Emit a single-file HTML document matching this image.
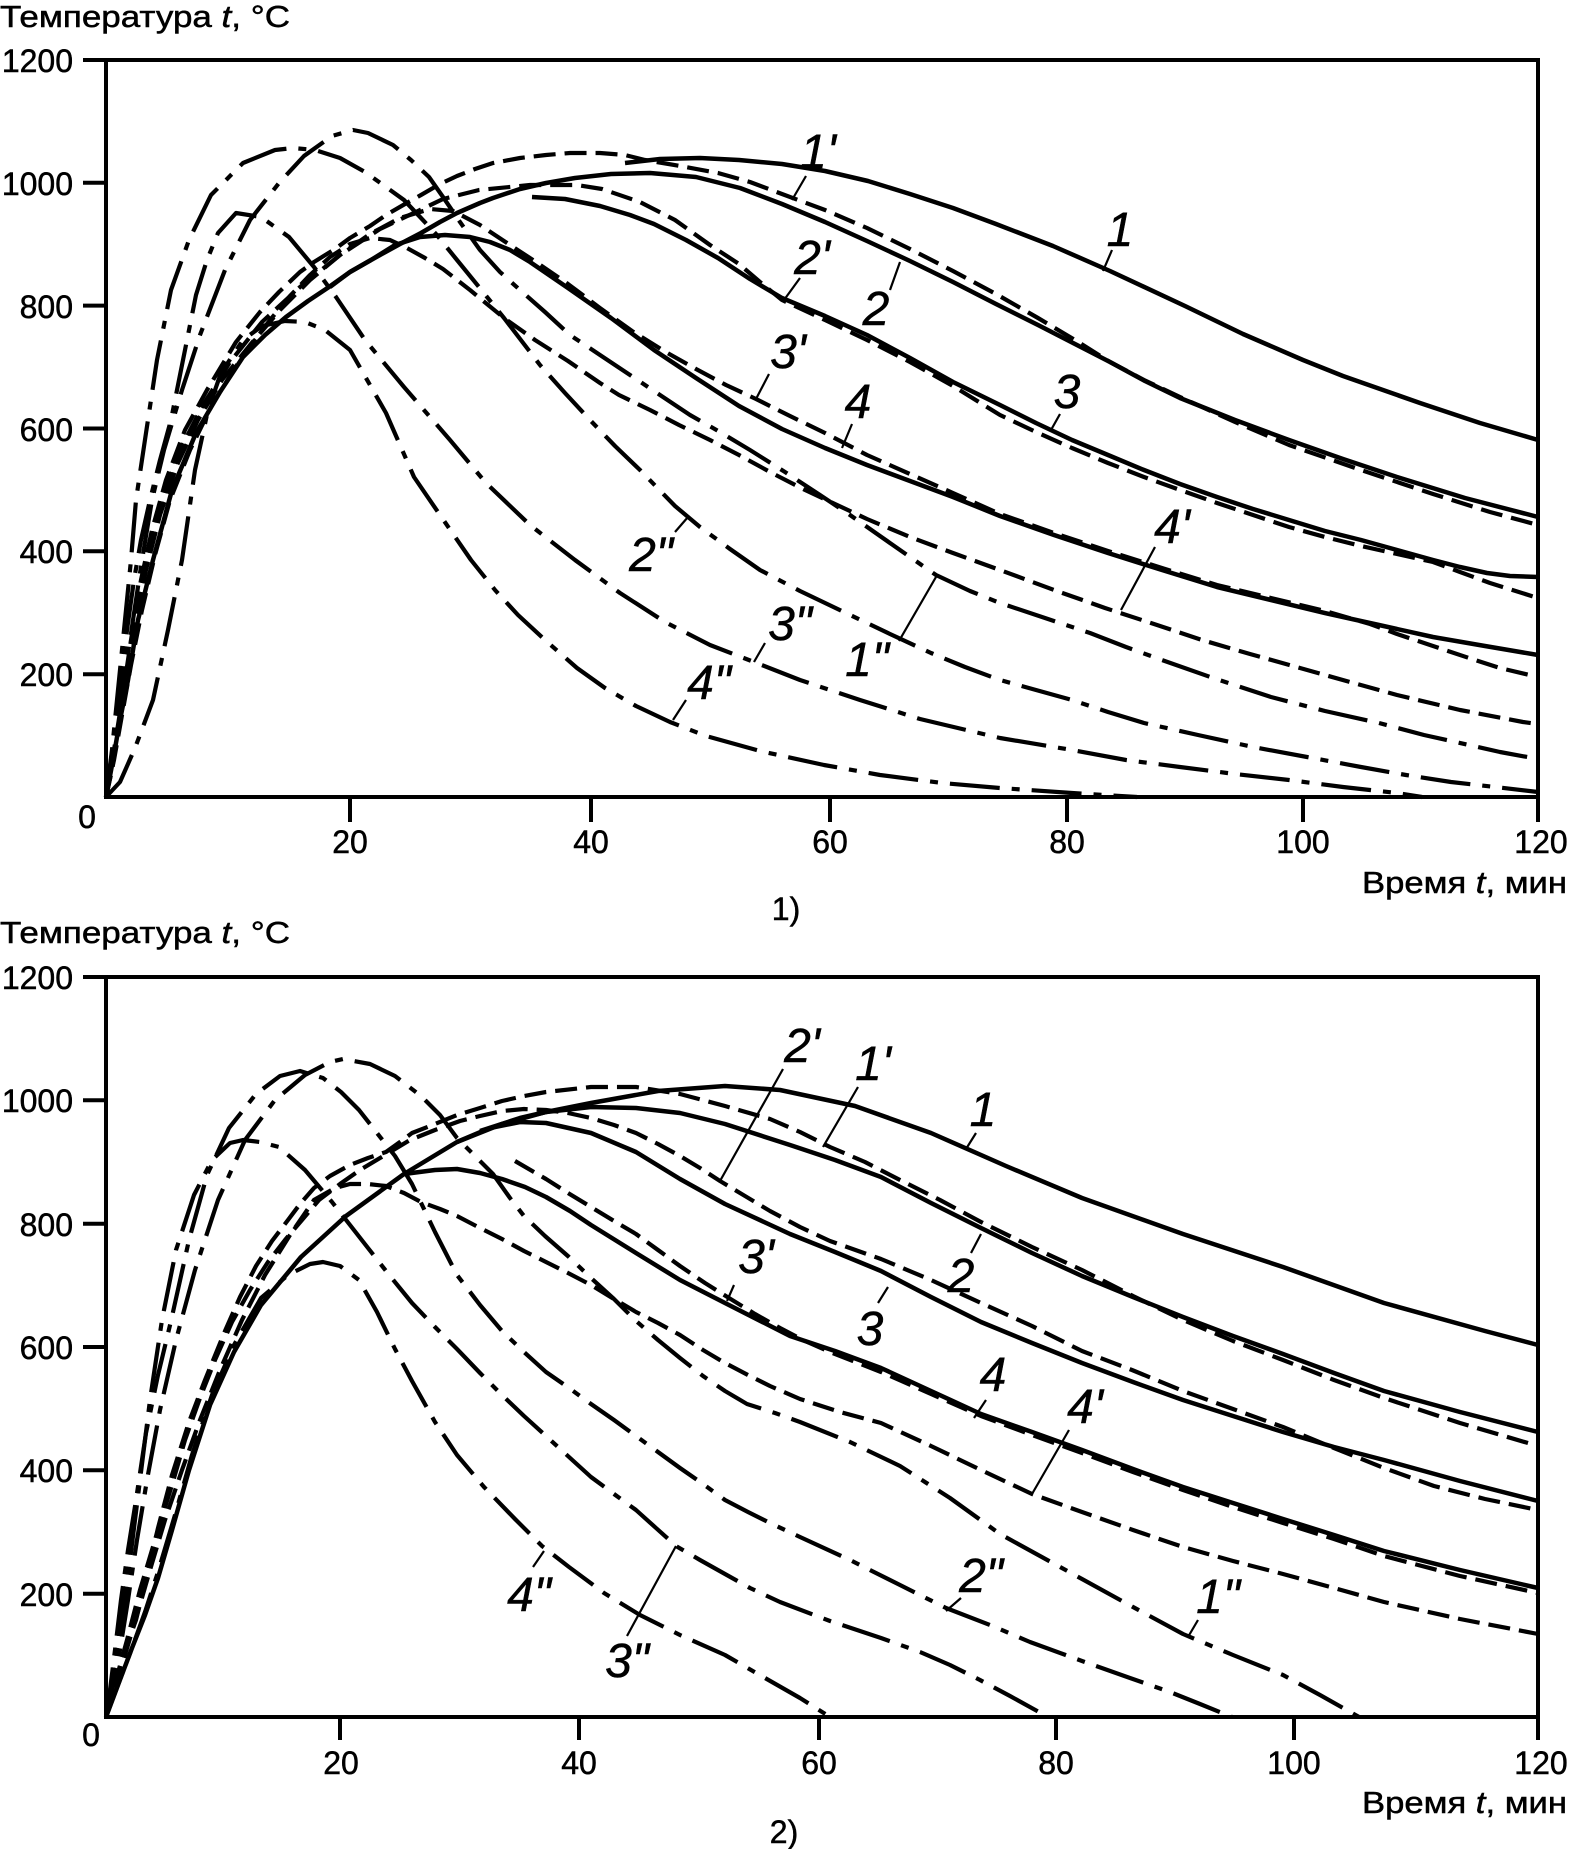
<!DOCTYPE html>
<html><head><meta charset="utf-8"><style>
html,body{margin:0;padding:0;background:#fff;}
svg{display:block;}
text{font-family:"Liberation Sans",Arial,sans-serif;fill:#000;stroke:#000;stroke-width:0.5;}
.lb{font-size:48px;font-style:italic;text-anchor:middle;}
.tk{font-size:32px;}
</style></head><body>
<svg width="1569" height="1849" viewBox="0 0 1569 1849" xmlns="http://www.w3.org/2000/svg">
<rect width="1569" height="1849" fill="#fff"/>

<!-- ============ PANEL 1 axes ============ -->
<g stroke="#000" stroke-width="4" fill="none">
<polyline points="83,60 1538,60 1538,822"/>
<line x1="106" y1="60" x2="106" y2="797"/>
<line x1="104" y1="797" x2="1540" y2="797"/>
<line x1="83" y1="182.8" x2="106" y2="182.8"/>
<line x1="83" y1="305.6" x2="106" y2="305.6"/>
<line x1="83" y1="428.5" x2="106" y2="428.5"/>
<line x1="83" y1="551.3" x2="106" y2="551.3"/>
<line x1="83" y1="674.2" x2="106" y2="674.2"/>
<line x1="350" y1="797" x2="350" y2="822"/>
<line x1="591" y1="797" x2="591" y2="822"/>
<line x1="830" y1="797" x2="830" y2="822"/>
<line x1="1067" y1="797" x2="1067" y2="822"/>
<line x1="1303" y1="797" x2="1303" y2="822"/>
</g>
<g class="tk" text-anchor="end">
<text x="73" y="72">1200</text>
<text x="73" y="195">1000</text>
<text x="73" y="318">800</text>
<text x="73" y="441">600</text>
<text x="73" y="563">400</text>
<text x="73" y="686">200</text>
</g>
<g class="tk" text-anchor="middle">
<text x="87" y="828">0</text>
<text x="350" y="853">20</text>
<text x="591" y="853">40</text>
<text x="830" y="853">60</text>
<text x="1067" y="853">80</text>
<text x="1303" y="853">100</text>
<text x="1541" y="853">120</text>
</g>
<text x="0" y="27" font-size="31" textLength="290" lengthAdjust="spacingAndGlyphs">Температура <tspan font-style="italic">t</tspan>, °C</text>
<text x="1567" y="893" font-size="31" text-anchor="end" textLength="205" lengthAdjust="spacingAndGlyphs">Время <tspan font-style="italic">t</tspan>, мин</text>
<text x="786" y="920" font-size="32" text-anchor="middle">1)</text>

<!-- PANEL 1 curves -->
<g fill="none" stroke="#000" stroke-linejoin="round">
<g stroke-width="4.5">
<polyline points="625,163 660,159 700,158 739,160 782,164 825,171 868,181 910,194 953,208 996,224 1053,246 1110,271 1185,306 1243,334 1303,360 1343,376 1420,403 1480,423 1538,440"/>
<polyline points="106,797 113,760 120,720 128,680 138,620 153,560 172,490 196,433 220,392 243,357 265,335 286,317 308,301 329,287 350,272 371,260 400,244 421,233 440,222 457,213 480,203 493,198 520,189 546,183 575,178 611,174 650,173 696,177 740,188 782,204 825,222 867,241 910,261 953,282 996,304 1038,325 1075,344 1110,362 1145,381 1180,398 1235,420 1289,440 1343,459 1397,477 1465,498 1538,517"/>
<polyline points="532,197 565,199 600,206 630,215 654,224 686,240 718,258 750,279 782,298 825,316 867,335 910,358 953,382 1000,405 1036,423 1072,440 1108,455 1144,470 1180,484 1217,497 1253,509 1289,520 1325,531 1361,540 1397,550 1433,560 1460,567 1487,573 1510,576 1538,577"/>
<polyline points="330,287 350,272 371,260 395,245 420,237 445,235 470,237 490,242 510,250 530,262 568,288 611,318 654,350 696,378 739,406 782,429 825,448 867,465 910,481 953,497 1000,516 1054,535 1108,553 1162,570 1217,587 1271,600 1325,613 1379,625 1433,637 1485,646 1538,655"/>
</g>
<g stroke-width="4.2" stroke-dasharray="22 9">
<polyline points="106,797 114,750 122,700 131,640 141,580 152,530 166,480 185,430 207,390 236,342 260,312 279,292 300,272 314,262 335,249 350,238 370,226 386,215 405,204 421,195 440,184 457,176 475,169 493,163 520,158 546,155 570,153 600,153 625,155 645,160 680,166 718,173 750,182 782,194 825,210 867,228 910,249 953,271 996,294 1038,318 1075,340 1110,362 1144,380 1180,397 1235,422 1289,445 1361,470 1433,494 1490,512 1538,525"/>
<polyline points="106,797 113,760 120,715 128,665 137,610 148,555 162,500 180,450 203,405 230,362 262,322 300,287 340,255 380,229 420,210 443,199 479,190 530,185 577,185 602,189 640,202 675,220 710,245 739,264 760,282 782,300 825,320 867,340 910,362 953,386 1000,415 1036,432 1072,448 1108,463 1144,477 1180,490 1217,503 1253,515 1289,527 1325,537 1361,546 1397,554 1433,562 1460,572 1490,583 1538,598"/>
<polyline points="106,797 112,770 118,730 126,680 135,625 146,570 160,515 177,465 198,420 222,380 250,345 280,310 310,280 340,255 370,234 400,218 430,209 453,211 480,225 504,241 536,262 568,284 600,308 632,331 664,351 696,369 726,385 756,399 790,416 825,433 867,455 910,474 953,493 1000,514 1054,533 1108,551 1162,568 1217,585 1271,598 1325,611 1370,624 1397,634 1433,646 1469,658 1500,668 1538,677"/>
<polyline points="106,797 114,760 122,715 131,665 142,610 155,555 170,500 190,450 212,405 240,360 270,320 290,296 310,275 330,257 350,244 370,238 390,240 407,248 425,258 443,269 470,290 504,318 535,340 568,361 600,383 619,395 650,410 679,425 710,440 739,455 770,472 803,489 835,504 867,519 910,537 953,553 1000,570 1054,590 1105,608 1154,624 1202,640 1250,654 1300,668 1350,682 1397,695 1460,710 1523,722 1538,724"/>
</g>
<g stroke-width="4.2" stroke-dasharray="50 12 8 12">
<polyline points="106,797 115,740 124,680 133,620 142,560 152,500 164,450 182,390 200,335 225,270 250,220 279,183 304,156 332,136 353,130 368,133 393,145 411,160 429,177 443,197 460,222 480,250 500,272 520,290 545,312 570,335 600,355 630,375 660,395 690,415 720,432 750,450 785,472 820,495 850,515 880,536 910,557 936,575 970,591 1000,603 1045,618 1090,633 1126,647 1162,660 1216,679 1271,697 1325,711 1379,723 1424,735 1469,745 1500,752 1538,759"/>
<polyline points="106,797 112,750 118,690 125,620 131,560 136,500 146,433 157,360 171,290 189,240 211,195 243,163 275,150 293,148 315,150 340,158 365,172 386,187 404,200 421,218 436,234 457,260 479,287 504,318 540,365 565,393 590,420 615,446 640,470 675,506 700,527 730,549 760,570 800,591 846,613 890,634 931,653 965,667 1000,680 1036,690 1072,700 1108,712 1144,723 1198,735 1253,747 1307,757 1361,767 1406,775 1451,782 1495,787 1538,792"/>
<polyline points="106,797 113,745 120,690 127,630 134,580 141,540 150,500 160,460 171,420 185,350 196,295 207,260 218,233 236,213 261,217 289,237 314,267 336,297 365,340 404,387 450,440 486,483 530,525 575,560 620,593 665,622 710,645 754,662 800,680 860,700 920,719 1000,738 1072,750 1126,760 1180,767 1235,774 1289,780 1343,787 1397,793 1422,797"/>
<polyline points="106,797 120,782 135,748 153,700 168,630 182,560 195,470 208,410 221,373 243,340 262,326 285,321 305,322 325,330 350,350 370,385 386,413 400,445 414,477 440,515 471,560 495,590 518,615 545,640 577,668 605,688 636,706 670,722 706,736 760,751 824,765 880,775 942,783 1000,788 1072,793 1137,797"/>
</g>
<g stroke-width="2.2">
<line x1="806" y1="176" x2="792" y2="200"/>
<line x1="1112" y1="250" x2="1103" y2="271"/>
<line x1="800" y1="278" x2="784" y2="300"/>
<line x1="890" y1="290" x2="900" y2="262"/>
<line x1="769" y1="374" x2="756" y2="399"/>
<line x1="852" y1="424" x2="842" y2="448"/>
<line x1="1060" y1="414" x2="1051" y2="430"/>
<line x1="1155" y1="547" x2="1121" y2="610"/>
<line x1="675" y1="532" x2="688" y2="517"/>
<line x1="765" y1="643" x2="754" y2="662"/>
<line x1="899" y1="641" x2="936" y2="577"/>
<line x1="686" y1="700" x2="673" y2="720"/>
</g>
</g>
<g class="lb">
<text x="818" y="168">1'</text>
<text x="1120" y="246">1</text>
<text x="812" y="274">2'</text>
<text x="876" y="325">2</text>
<text x="788" y="368">3'</text>
<text x="858" y="418">4</text>
<text x="1067" y="408">3</text>
<text x="1172" y="543">4'</text>
<text x="651" y="571">2"</text>
<text x="790" y="640">3"</text>
<text x="867" y="676">1"</text>
<text x="709" y="699">4"</text>
</g>

<!-- ============ PANEL 2 axes ============ -->
<g stroke="#000" stroke-width="4" fill="none">
<polyline points="83,977 1538,977 1538,1740"/>
<line x1="106" y1="977" x2="106" y2="1717"/>
<line x1="104" y1="1717" x2="1540" y2="1717"/>
<line x1="83" y1="1100.3" x2="106" y2="1100.3"/>
<line x1="83" y1="1223.7" x2="106" y2="1223.7"/>
<line x1="83" y1="1347" x2="106" y2="1347"/>
<line x1="83" y1="1470.3" x2="106" y2="1470.3"/>
<line x1="83" y1="1593.7" x2="106" y2="1593.7"/>
<line x1="340" y1="1717" x2="340" y2="1740"/>
<line x1="579" y1="1717" x2="579" y2="1740"/>
<line x1="819" y1="1717" x2="819" y2="1740"/>
<line x1="1056" y1="1717" x2="1056" y2="1740"/>
<line x1="1294" y1="1717" x2="1294" y2="1740"/>
</g>
<g class="tk" text-anchor="end">
<text x="73" y="989">1200</text>
<text x="73" y="1112">1000</text>
<text x="73" y="1236">800</text>
<text x="73" y="1359">600</text>
<text x="73" y="1482">400</text>
<text x="73" y="1606">200</text>
</g>
<g class="tk" text-anchor="middle">
<text x="91" y="1746">0</text>
<text x="341" y="1774">20</text>
<text x="579" y="1774">40</text>
<text x="819" y="1774">60</text>
<text x="1056" y="1774">80</text>
<text x="1294" y="1774">100</text>
<text x="1541" y="1774">120</text>
</g>
<text x="0" y="943" font-size="31" textLength="290" lengthAdjust="spacingAndGlyphs">Температура <tspan font-style="italic">t</tspan>, °C</text>
<text x="1567" y="1813" font-size="31" text-anchor="end" textLength="205" lengthAdjust="spacingAndGlyphs">Время <tspan font-style="italic">t</tspan>, мин</text>
<text x="784" y="1843" font-size="32" text-anchor="middle">2)</text>

<!-- PANEL 2 curves -->
<g fill="none" stroke="#000" stroke-linejoin="round">
<g stroke-width="4.5">
<polyline points="106,1717 118,1685 132,1648 145,1615 158,1578 172,1530 189,1470 210,1405 234,1352 261,1305 301,1257 346,1216 404,1174 457,1142 502,1124 546,1112 591,1103 658,1091 725,1086 780,1090 855,1106 931,1133 1006,1166 1082,1198 1183,1234 1283,1267 1384,1303 1485,1331 1538,1345"/>
<polyline points="480,1131 520,1118 546,1112 591,1107 636,1108 680,1113 725,1124 790,1145 835,1160 881,1177 931,1203 981,1228 1032,1253 1082,1276 1133,1297 1183,1317 1233,1336 1283,1354 1334,1373 1384,1391 1460,1412 1538,1432"/>
<polyline points="457,1142 490,1128 520,1122 546,1123 591,1133 636,1152 680,1179 725,1204 790,1234 835,1252 881,1271 931,1297 981,1322 1032,1343 1082,1363 1133,1382 1183,1400 1233,1416 1283,1432 1334,1447 1384,1460 1460,1481 1538,1501"/>
<polyline points="404,1174 435,1170 457,1169 480,1173 502,1179 525,1187 546,1197 570,1211 591,1225 636,1253 680,1280 725,1303 790,1336 835,1351 881,1368 931,1391 981,1414 1032,1432 1082,1450 1133,1469 1183,1487 1233,1503 1283,1519 1334,1535 1384,1551 1460,1570 1538,1588"/>
</g>
<g stroke-width="4.2" stroke-dasharray="22 9">
<polyline points="106,1717 115,1685 125,1650 136,1620 147,1575 158,1528 172,1475 189,1422 205,1380 225,1331 240,1297 256,1266 272,1241 288,1220 300,1204 314,1188 330,1176 350,1165 368,1158 386,1152 400,1142 412,1133 435,1124 457,1115 480,1108 502,1101 524,1096 546,1092 591,1087 636,1087 680,1094 725,1106 770,1119 800,1132 830,1147 865,1162 900,1180 940,1200 981,1222 1032,1247 1082,1270 1133,1296 1183,1320 1233,1341 1283,1360 1334,1380 1384,1398 1460,1423 1538,1446"/>
<polyline points="106,1717 116,1680 127,1640 140,1590 158,1530 172,1485 185,1440 200,1398 215,1360 232,1322 250,1290 268,1262 285,1240 302,1220 319,1200 340,1184 360,1170 385,1155 410,1140 435,1130 460,1121 480,1116 502,1111 524,1109 546,1110 568,1113 591,1118 614,1125 636,1133 658,1144 680,1156 700,1168 720,1181 745,1196 770,1211 800,1227 830,1241 881,1259 931,1280 981,1303 1032,1326 1082,1351 1132,1370 1183,1391 1233,1409 1283,1427 1334,1448 1384,1468 1434,1486 1485,1499 1538,1510"/>
<polyline points="515,1161 546,1179 568,1193 591,1207 614,1221 636,1234 658,1250 680,1266 705,1283 729,1298 755,1314 780,1328 805,1341 830,1352 881,1372 931,1394 981,1416 1032,1435 1082,1453 1133,1472 1183,1490 1233,1507 1283,1523 1334,1539 1384,1556 1460,1576 1538,1593"/>
<polyline points="106,1717 115,1690 125,1655 137,1615 150,1570 165,1520 182,1470 200,1420 220,1370 242,1320 265,1275 290,1235 314,1200 335,1188 350,1184 368,1184 386,1186 404,1193 421,1202 440,1209 457,1216 480,1228 502,1239 524,1251 546,1262 568,1273 591,1285 614,1299 636,1312 658,1323 680,1335 703,1350 725,1363 748,1375 770,1386 800,1399 840,1412 881,1423 931,1446 981,1470 1032,1494 1082,1512 1133,1530 1183,1547 1233,1561 1283,1574 1334,1588 1384,1602 1460,1619 1538,1634"/>
</g>
<g stroke-width="4.2" stroke-dasharray="50 12 8 12">
<polyline points="106,1717 112,1690 120,1650 128,1600 137,1540 147,1480 160,1410 176,1340 195,1270 218,1200 245,1140 275,1100 305,1075 330,1062 343,1059 370,1064 395,1076 421,1096 440,1115 457,1138 475,1156 493,1174 510,1198 524,1216 545,1236 569,1257 591,1278 613,1298 635,1320 658,1340 680,1358 703,1376 725,1391 747,1404 775,1413 800,1422 850,1442 900,1466 950,1498 1000,1534 1040,1556 1082,1579 1133,1607 1183,1634 1233,1655 1283,1675 1320,1695 1359,1717"/>
<polyline points="106,1717 110,1690 115,1650 121,1600 128,1550 136,1500 146,1433 158,1375 171,1321 189,1240 207,1175 229,1128 256,1094 280,1076 300,1071 323,1078 341,1092 359,1110 377,1133 395,1156 412,1184 435,1232 457,1275 480,1305 502,1331 524,1352 546,1372 569,1388 591,1404 614,1420 636,1436 658,1452 680,1468 703,1484 725,1500 748,1512 770,1523 800,1537 850,1560 900,1585 946,1608 990,1625 1030,1642 1082,1661 1130,1678 1170,1692 1200,1704 1232,1717"/>
<polyline points="106,1717 112,1680 120,1630 130,1560 140,1480 150,1400 162,1320 176,1250 194,1195 212,1160 230,1143 243,1140 260,1142 279,1147 305,1170 332,1202 350,1225 368,1248 390,1276 412,1303 435,1327 457,1349 480,1373 502,1395 524,1416 546,1436 569,1457 591,1477 614,1494 636,1510 656,1528 676,1546 700,1560 725,1574 750,1588 780,1602 830,1621 881,1638 920,1652 950,1665 980,1680 1010,1696 1048,1717"/>
<polyline points="106,1717 118,1685 132,1648 145,1612 158,1572 175,1515 192,1455 212,1395 234,1345 261,1298 288,1275 310,1264 323,1262 340,1266 359,1280 377,1312 395,1349 412,1381 435,1422 457,1455 484,1487 515,1519 542,1546 569,1567 604,1593 640,1615 680,1635 725,1655 765,1678 800,1698 830,1717"/>
</g>
<g stroke-width="2.2">
<line x1="783" y1="1069" x2="720" y2="1181"/>
<line x1="858" y1="1087" x2="823" y2="1147"/>
<line x1="976" y1="1133" x2="966" y2="1149"/>
<line x1="971" y1="1253" x2="981" y2="1234"/>
<line x1="878" y1="1303" x2="888" y2="1287"/>
<line x1="734" y1="1285" x2="727" y2="1301"/>
<line x1="986" y1="1400" x2="974" y2="1418"/>
<line x1="1069" y1="1430" x2="1032" y2="1494"/>
<line x1="961" y1="1598" x2="946" y2="1611"/>
<line x1="1198" y1="1620" x2="1188" y2="1637"/>
<line x1="533" y1="1567" x2="544" y2="1551"/>
<line x1="627" y1="1636" x2="676" y2="1546"/>
</g>
</g>
<g class="lb">
<text x="802" y="1062">2'</text>
<text x="873" y="1080">1'</text>
<text x="983" y="1126">1</text>
<text x="961" y="1292">2</text>
<text x="870" y="1345">3</text>
<text x="756" y="1273">3'</text>
<text x="993" y="1391">4</text>
<text x="1085" y="1423">4'</text>
<text x="981" y="1592">2"</text>
<text x="1218" y="1613">1"</text>
<text x="529" y="1611">4"</text>
<text x="627" y="1677">3"</text>
</g>
</svg>
</body></html>
